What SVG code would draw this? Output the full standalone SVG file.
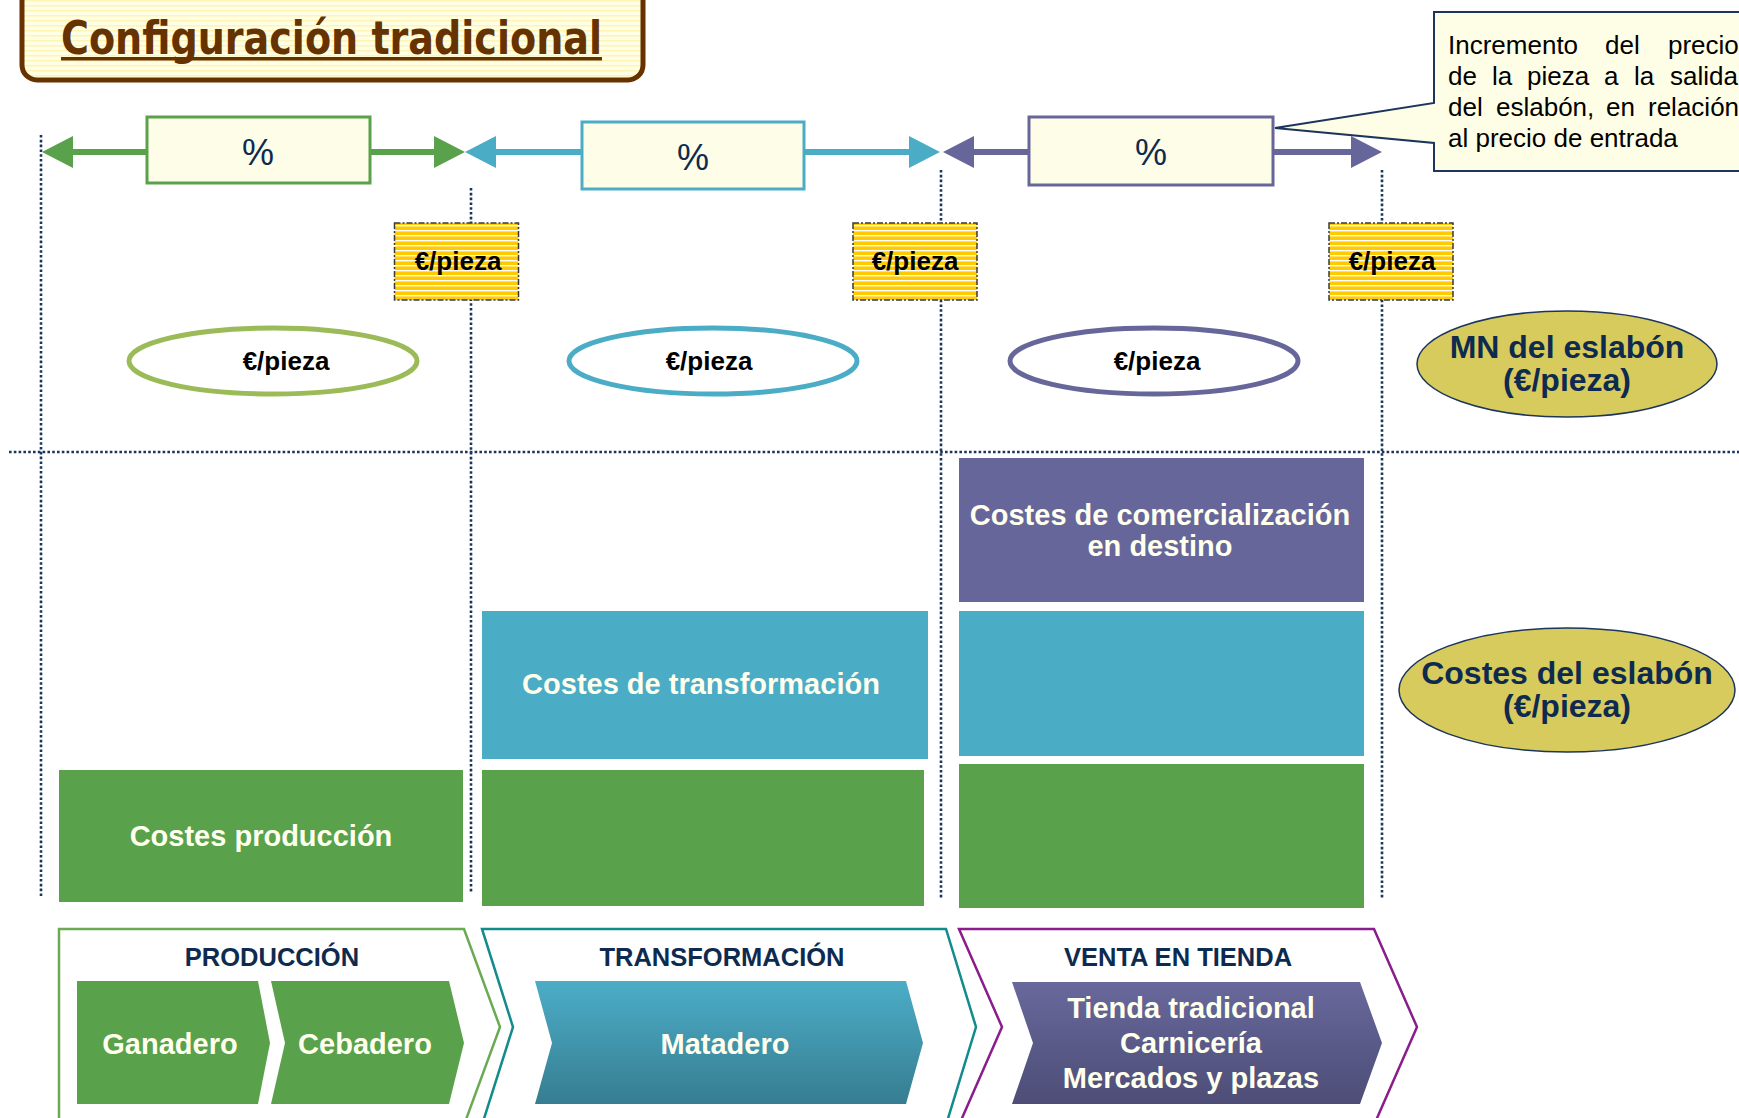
<svg xmlns="http://www.w3.org/2000/svg" width="1739" height="1118" viewBox="0 0 1739 1118">
  <style>
    text { font-family: "Liberation Sans", Arial, sans-serif; }
    .b { font-weight: bold; }
    .navy { fill: #0E2B4F; }
    .light { fill: #FFFFEE; }
    .guide { fill: none; stroke: #1C355C; stroke-width: 2.6; stroke-dasharray: 2.6 2.2; }
    .pct { fill: #FEFEE8; stroke-width: 3; }
    .pcttxt { font-size: 36px; fill: #0E2B4F; text-anchor: middle; }
    .eur { fill: url(#stripesGold); stroke: #3A3A3A; stroke-width: 1.5; stroke-dasharray: 6 2 2 2; }
    .eurtxt { font-size: 26px; font-weight: bold; fill: #000; text-anchor: middle; }
    .ring { fill: #fff; stroke-width: 5; }
    .olive { fill: #D8CB5E; stroke: #1C355C; stroke-width: 1.5; }
    .big { font-size: 32px; font-weight: bold; fill: #0E2B4F; text-anchor: middle; }
    .blocktxt { font-size: 29px; font-weight: bold; fill: #FFFFEE; text-anchor: middle; }
    .stage { font-size: 25.5px; font-weight: bold; fill: #0E2B4F; text-anchor: middle; }
    .frame { fill: #fff; stroke-width: 2.5; }
    .green { fill: #5AA14B; }
    .blue { fill: #4BACC6; }
    .purple { fill: #66669A; }
  </style>
  <defs>
    <pattern id="stripesGold" patternUnits="userSpaceOnUse" width="10" height="5">
      <rect width="10" height="5" fill="#FFCB00"/>
      <rect y="0" width="10" height="1.4" fill="#FFFFFF"/>
    </pattern>
    <pattern id="stripesCream" patternUnits="userSpaceOnUse" width="10" height="5">
      <rect width="10" height="5" fill="#FFFFE6"/>
      <rect y="0" width="10" height="1.5" fill="#FFF4B4"/>
    </pattern>
    <linearGradient id="gradBlue" x1="0" y1="0" x2="0" y2="1">
      <stop offset="0" stop-color="#4CADC7"/>
      <stop offset="1" stop-color="#367D91"/>
    </linearGradient>
    <linearGradient id="gradPurple" x1="0" y1="0" x2="0" y2="1">
      <stop offset="0" stop-color="#68689C"/>
      <stop offset="1" stop-color="#4D4D77"/>
    </linearGradient>
    <marker id="headGreen" markerUnits="userSpaceOnUse" markerWidth="32" markerHeight="34" refX="0" refY="16" orient="auto-start-reverse">
      <path d="M0,0 L31,16 L0,32 Z" fill="#5AA14B"/>
    </marker>
    <marker id="headBlue" markerUnits="userSpaceOnUse" markerWidth="32" markerHeight="34" refX="0" refY="16" orient="auto-start-reverse">
      <path d="M0,0 L31,16 L0,32 Z" fill="#4BACC6"/>
    </marker>
    <marker id="headPurple" markerUnits="userSpaceOnUse" markerWidth="32" markerHeight="34" refX="0" refY="16" orient="auto-start-reverse">
      <path d="M0,0 L31,16 L0,32 Z" fill="#66669A"/>
    </marker>
  </defs>

  <rect width="1739" height="1118" fill="#FFFFFF"/>

  <!-- title -->
  <g id="title">
    <rect x="22" y="-20" width="621" height="100" rx="15" fill="url(#stripesCream)" stroke="#663300" stroke-width="5"/>
    <text x="61" y="54" font-family="DejaVu Sans, sans-serif" style="font-family: 'DejaVu Sans', sans-serif;" font-size="47" font-weight="bold" fill="#663300" textLength="541" lengthAdjust="spacingAndGlyphs">Configuración tradicional</text>
    <rect x="61" y="57" width="541" height="3.5" fill="#663300"/>
  </g>

  <!-- callout explaining the percentage -->
  <g id="callout">
    <path d="M1434,12 H1760 V171 H1434 V143 L1275,128 L1434,103 Z" fill="#FEFEE6" stroke="#1C355C" stroke-width="2"/>
    <text font-size="26" fill="#000">
      <tspan x="1448" y="54">Incremento</tspan><tspan x="1605" y="54">del</tspan><tspan x="1668" y="54">precio</tspan>
      <tspan x="1448" y="85">de</tspan><tspan x="1492" y="85">la</tspan><tspan x="1527" y="85">pieza</tspan><tspan x="1604" y="85">a</tspan><tspan x="1634" y="85">la</tspan><tspan x="1670" y="85">salida</tspan>
      <tspan x="1448" y="116">del</tspan><tspan x="1496" y="116">eslabón,</tspan><tspan x="1606" y="116">en</tspan><tspan x="1648" y="116">relación</tspan>
      <tspan x="1448" y="147">al precio de entrada</tspan>
    </text>
  </g>

  <!-- guide lines -->
  <g id="guides">
    <line class="guide" x1="41" y1="135" x2="41" y2="898"/>
    <line class="guide" x1="471" y1="188" x2="471" y2="893"/>
    <line class="guide" x1="941" y1="170" x2="941" y2="898"/>
    <line class="guide" x1="1382" y1="170" x2="1382" y2="898"/>
    <line class="guide" x1="9" y1="452" x2="1739" y2="452"/>
  </g>

  <!-- double-headed span arrows -->
  <g id="connectors">
    <line x1="73" y1="152" x2="434" y2="152" stroke="#5AA14B" stroke-width="6" marker-start="url(#headGreen)" marker-end="url(#headGreen)"/>
    <line x1="496" y1="152" x2="909" y2="152" stroke="#4BACC6" stroke-width="6" marker-start="url(#headBlue)" marker-end="url(#headBlue)"/>
    <line x1="974" y1="152" x2="1351" y2="152" stroke="#66669A" stroke-width="6" marker-start="url(#headPurple)" marker-end="url(#headPurple)"/>
  </g>

  <!-- percentage boxes -->
  <g id="pct-produccion">
    <rect class="pct" x="147" y="117" width="223" height="66" stroke="#5AA14B"/>
    <text class="pcttxt" x="258" y="165">%</text>
  </g>
  <g id="pct-transformacion">
    <rect class="pct" x="582" y="122" width="222" height="67" stroke="#4BACC6"/>
    <text class="pcttxt" x="693" y="170">%</text>
  </g>
  <g id="pct-venta">
    <rect class="pct" x="1029" y="117" width="244" height="68" stroke="#66669A"/>
    <text class="pcttxt" x="1151" y="165">%</text>
  </g>

  <!-- price per piece at the exit of each link -->
  <g id="precio-1">
    <rect class="eur" x="394.5" y="223" width="124" height="77"/>
    <text class="eurtxt" x="458" y="270">€/pieza</text>
  </g>
  <g id="precio-2">
    <rect class="eur" x="853" y="223" width="124" height="77"/>
    <text class="eurtxt" x="915" y="270">€/pieza</text>
  </g>
  <g id="precio-3">
    <rect class="eur" x="1329" y="223" width="124" height="77"/>
    <text class="eurtxt" x="1392" y="270">€/pieza</text>
  </g>

  <!-- net margin per link -->
  <g id="mn-produccion">
    <ellipse class="ring" cx="273" cy="361" rx="144" ry="33" stroke="#9BBB59"/>
    <text class="eurtxt" x="286" y="370">€/pieza</text>
  </g>
  <g id="mn-transformacion">
    <ellipse class="ring" cx="713" cy="361" rx="144" ry="33" stroke="#4BACC6"/>
    <text class="eurtxt" x="709" y="370">€/pieza</text>
  </g>
  <g id="mn-venta">
    <ellipse class="ring" cx="1154" cy="361" rx="144" ry="33" stroke="#66669A"/>
    <text class="eurtxt" x="1157" y="370">€/pieza</text>
  </g>
  <g id="mn-label">
    <ellipse class="olive" cx="1567" cy="364" rx="150" ry="53"/>
    <text class="big" x="1567" y="358">MN del eslabón</text>
    <text class="big" x="1567" y="391">(€/pieza)</text>
  </g>

  <!-- cost stacks -->
  <g id="costes-produccion">
    <rect class="green" x="59" y="770" width="404" height="132"/>
    <text class="blocktxt" x="261" y="846">Costes producción</text>
  </g>
  <g id="costes-transformacion">
    <rect class="blue" x="482" y="611" width="446" height="148"/>
    <text class="blocktxt" x="701" y="694">Costes de transformación</text>
    <rect class="green" x="482" y="770" width="442" height="136"/>
  </g>
  <g id="costes-venta">
    <rect class="purple" x="959" y="458" width="405" height="144"/>
    <text class="blocktxt" x="1160" y="525">Costes de comercialización</text>
    <text class="blocktxt" x="1160" y="556">en destino</text>
    <rect class="blue" x="959" y="611" width="405" height="145"/>
    <rect class="green" x="959" y="764" width="405" height="144"/>
  </g>
  <g id="costes-label">
    <ellipse class="olive" cx="1567" cy="690" rx="168" ry="62"/>
    <text class="big" x="1567" y="684">Costes del eslabón</text>
    <text class="big" x="1567" y="717">(€/pieza)</text>
  </g>

  <!-- value chain stages -->
  <g id="etapa-produccion">
    <path class="frame" d="M59,929 H464 L500,1027 L464,1125 H59 Z" stroke="#6AAA52"/>
    <text class="stage" x="272" y="966">PRODUCCIÓN</text>
    <path class="green" d="M77,981 H258 L270,1043 L258,1104 H77 Z"/>
    <text class="blocktxt" x="170" y="1054">Ganadero</text>
    <path class="green" d="M271,981 H449 L464,1043 L449,1104 H271 L285,1043 Z"/>
    <text class="blocktxt" x="365" y="1054">Cebadero</text>
  </g>
  <g id="etapa-transformacion">
    <path class="frame" d="M482,929 H946 L976,1027 L946,1125 H482 L513,1027 Z" stroke="#138A8C"/>
    <text class="stage" x="722" y="966">TRANSFORMACIÓN</text>
    <path d="M535,981 H906 L923,1043 L906,1104 H535 L552,1043 Z" fill="url(#gradBlue)"/>
    <text class="blocktxt" x="725" y="1054">Matadero</text>
  </g>
  <g id="etapa-venta">
    <path class="frame" d="M959,929 H1374 L1417,1027 L1374,1125 H959 L1002,1027 Z" stroke="#8A1C8C"/>
    <text class="stage" x="1178" y="966">VENTA EN TIENDA</text>
    <path d="M1012,982 H1360 L1382,1043 L1360,1104 H1012 L1033,1043 Z" fill="url(#gradPurple)"/>
    <text class="blocktxt" x="1191" y="1018">Tienda tradicional</text>
    <text class="blocktxt" x="1191" y="1053">Carnicería</text>
    <text class="blocktxt" x="1191" y="1088">Mercados y plazas</text>
  </g>
</svg>
